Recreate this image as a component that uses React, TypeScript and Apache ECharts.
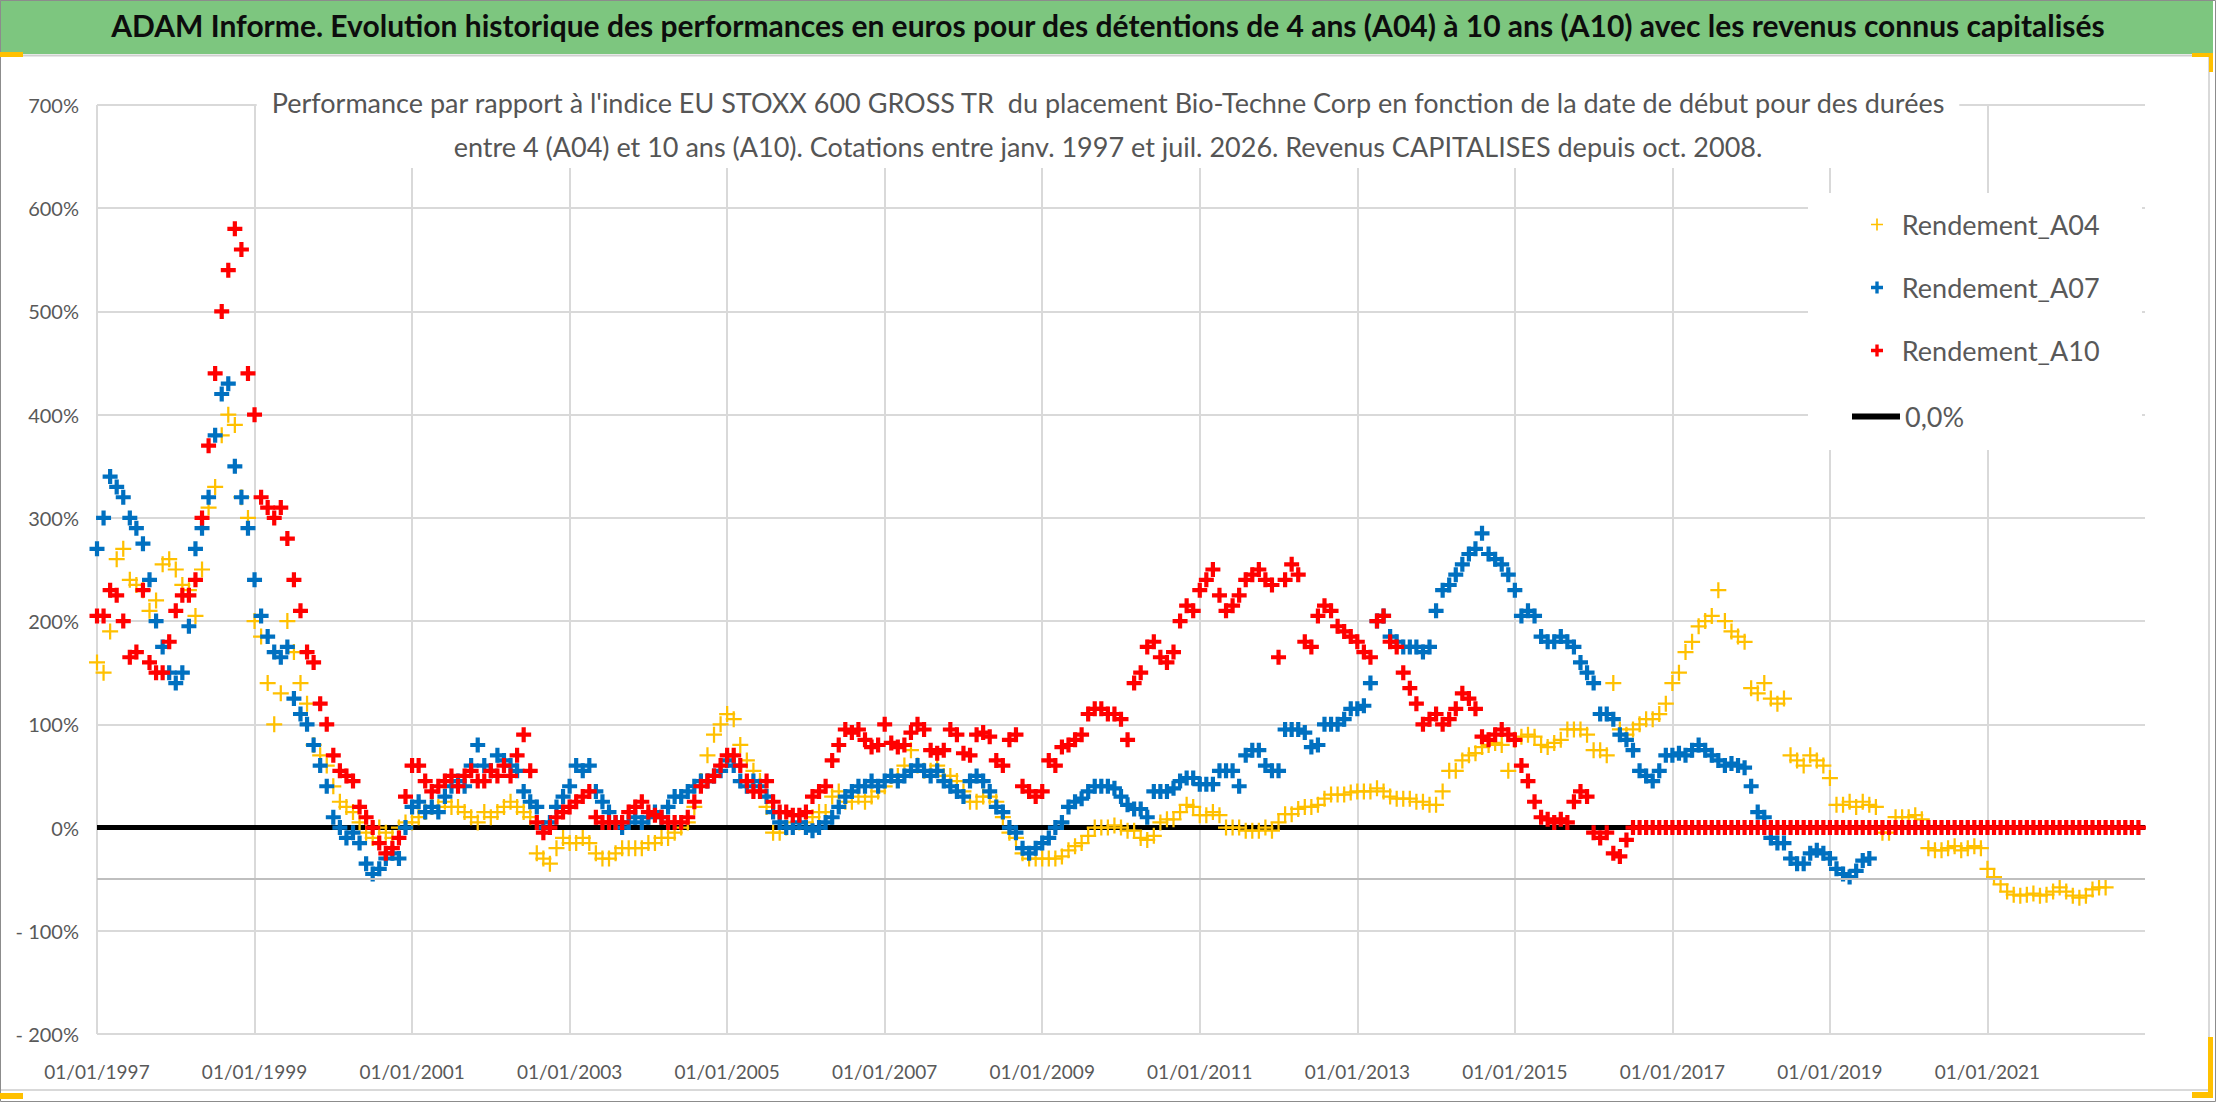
import React, { useEffect, useRef } from 'react';
import * as echarts from 'echarts';

// Monthly readings (start of month), from 01/1997
const START_YEAR = 1997;
const X_MIN = 1997;
const X_MAX = 2023;
const X_STEP = 2;
const Y_MIN = -200;
const Y_MAX = 700;
const Y_STEP = 100;

const seriesNames = ['Rendement_A04', 'Rendement_A07', 'Rendement_A10', '0,0%'];

// Rendement_A04 : 01/1997 -> 07/2022
const rendementA04 = [
  160, 150, 190, 260, 270, 240, 235, 230, 210, 220, 255, 260, // 1997
  250, 235, 230, 205, 250, 310, 330, 380, 400, 390, 320, 300, // 1998
  200, 185, 140, 100, 130, 200, 170, 140, 120, 80, 70, 60, // 1999
  40, 25, 20, 15, 5, -5, -10, 0, -5, -10, 0, 5, // 2000
  5, 10, 15, 20, 20, 25, 20, 20, 15, 10, 5, 15, // 2001
  10, 15, 20, 25, 20, 15, 10, -25, -30, -35, -20, -10, // 2002
  -15, -15, -10, -15, -25, -30, -30, -25, -20, -20, -20, -20, // 2003
  -15, -15, -10, -10, -5, 0, 5, 20, 45, 70, 90, 100, // 2004
  110, 105, 80, 65, 55, 45, 20, -5, -5, 0, 5, 5, // 2005
  5, 10, 15, 15, 30, 35, 25, 25, 30, 25, 30, 35, // 2006
  40, 50, 50, 60, 75, 60, 55, 55, 60, 50, 50, 45, // 2007
  35, 25, 25, 30, 30, 25, 10, -5, -10, -25, -30, -30, // 2008
  -30, -30, -30, -28, -22, -18, -15, -8, 0, 0, 0, 2, // 2009
  0, -3, -3, -10, -12, -8, 5, 8, 8, 15, 22, 20, // 2010
  12, 12, 15, 12, 0, 0, 0, -3, -3, -3, 0, -3, // 2011
  5, 13, 13, 18, 20, 20, 22, 28, 32, 32, 32, 34, // 2012
  35, 35, 35, 38, 35, 30, 28, 28, 28, 25, 25, 22, // 2013
  22, 35, 55, 55, 65, 70, 72, 78, 80, 82, 80, 55, // 2014
  85, 88, 90, 88, 80, 78, 82, 85, 95, 95, 95, 90, // 2015
  75, 75, 70, 140, 95, 90, 95, 100, 105, 105, 110, 120, // 2016
  140, 150, 170, 180, 195, 200, 205, 230, 200, 190, 185, 180, // 2017
  135, 130, 140, 125, 120, 125, 70, 65, 60, 70, 65, 60, // 2018
  48, 22, 22, 25, 20, 25, 22, 20, -5, -5, 10, 10, // 2019
  10, 12, 8, -20, -22, -22, -20, -18, -22, -20, -18, -20, // 2020
  -40, -48, -55, -62, -65, -66, -65, -64, -66, -65, -62, -58, // 2021
  -62, -66, -68, -66, -60, -58, -58 // 2022
];

// Rendement_A07 : 01/1997 -> 07/2019
const rendementA07 = [
  270, 300, 340, 330, 320, 300, 290, 275, 240, 200, 175, 150, // 1997
  140, 150, 195, 270, 290, 320, 380, 420, 430, 350, 320, 290, // 1998
  240, 205, 185, 170, 165, 175, 125, 110, 100, 80, 60, 40, // 1999
  10, 0, -10, -5, -15, -35, -45, -40, -30, -25, -30, 0, // 2000
  20, 25, 15, 20, 15, 30, 40, 45, 40, 60, 80, 60, // 2001
  55, 70, 65, 60, 55, 35, 25, 20, 0, 5, 20, 30, // 2002
  40, 60, 55, 60, 35, 25, 15, 5, 0, 5, 10, 5, // 2003
  10, 15, 10, 20, 30, 30, 35, 40, 45, 45, 50, 55, // 2004
  65, 60, 45, 40, 45, 40, 30, 15, 5, 0, 0, 5, // 2005
  0, -3, 0, 5, 10, 20, 30, 35, 40, 40, 45, 40, // 2006
  45, 50, 45, 50, 55, 60, 55, 50, 55, 45, 40, 35, // 2007
  30, 45, 50, 45, 35, 20, 15, 0, -5, -20, -25, -20, // 2008
  -15, -10, 0, 5, 20, 25, 28, 35, 40, 40, 40, 38, // 2009
  30, 22, 18, 18, 10, 35, 35, 35, 38, 45, 48, 48, // 2010
  42, 42, 42, 55, 55, 55, 40, 70, 75, 75, 60, 55, // 2011
  55, 95, 95, 95, 92, 78, 80, 100, 100, 100, 105, 115, // 2012
  115, 118, 140, 200, 205, 185, 180, 175, 175, 175, 170, 175, // 2013
  210, 230, 235, 245, 255, 265, 270, 285, 265, 260, 255, 245, // 2014
  230, 205, 210, 205, 185, 180, 180, 185, 180, 175, 160, 150, // 2015
  140, 110, 110, 105, 90, 85, 75, 55, 50, 45, 55, 70, // 2016
  70, 72, 70, 75, 80, 75, 70, 65, 60, 62, 60, 58, // 2017
  40, 15, 10, -10, -15, -15, -30, -35, -35, -25, -22, -25, // 2018
  -30, -40, -45, -48, -42, -32, -30 // 2019
];

// Rendement_A10 : 01/1997 -> 12/2022 (0 once no data is known)
const rendementA10 = [
  205, 205, 230, 225, 200, 165, 170, 230, 160, 150, 150, 180, // 1997
  210, 225, 225, 240, 300, 370, 440, 500, 540, 580, 560, 440, // 1998
  400, 320, 310, 300, 310, 280, 240, 210, 170, 160, 120, 100, // 1999
  70, 55, 50, 45, 20, 10, 0, -15, -25, -20, -10, 30, // 2000
  60, 60, 45, 35, 40, 45, 50, 40, 50, 55, 45, 45, // 2001
  55, 50, 60, 50, 70, 90, 55, 5, -5, 0, 10, 15, // 2002
  20, 25, 30, 35, 10, 5, 5, 5, 5, 15, 20, 25, // 2003
  15, 12, 10, 5, 5, 5, 10, 25, 40, 45, 50, 60, // 2004
  70, 70, 60, 45, 35, 35, 45, 25, 15, 15, 12, 12, // 2005
  15, 30, 35, 40, 65, 80, 95, 92, 95, 85, 78, 80, // 2006
  100, 82, 78, 80, 92, 100, 95, 75, 72, 75, 95, 90, // 2007
  72, 70, 90, 92, 88, 65, 60, 85, 90, 40, 35, 30, // 2008
  35, 65, 60, 78, 80, 85, 90, 110, 115, 115, 110, 110, // 2009
  105, 85, 140, 150, 175, 180, 165, 160, 170, 200, 215, 210, // 2010
  230, 240, 250, 225, 210, 215, 225, 240, 245, 250, 240, 235, // 2011
  165, 240, 255, 245, 180, 175, 205, 215, 210, 195, 190, 185, // 2012
  180, 170, 165, 200, 205, 180, 175, 150, 135, 120, 100, 105, // 2013
  110, 100, 105, 115, 130, 125, 115, 88, 85, 90, 95, 90, // 2014
  85, 60, 45, 25, 10, 8, 5, 8, 5, 25, 35, 30, // 2015
  -5, -10, -5, -25, -28, -12, 0, 0, 0, 0, 0, 0, // 2016
  0, 0, 0, 0, 0, 0, 0, 0, 0, 0, 0, 0, // 2017
  0, 0, 0, 0, 0, 0, 0, 0, 0, 0, 0, 0, // 2018
  0, 0, 0, 0, 0, 0, 0, 0, 0, 0, 0, 0, // 2019
  0, 0, 0, 0, 0, 0, 0, 0, 0, 0, 0, 0, // 2020
  0, 0, 0, 0, 0, 0, 0, 0, 0, 0, 0, 0, // 2021
  0, 0, 0, 0, 0, 0, 0, 0, 0, 0, 0, 0 // 2022
];

// 0,0% reference line
const zeroLine = [
  [1997, 0],
  [2023, 0]
];

const titleText =
  'ADAM Informe. Evolution historique des performances en euros pour des détentions de 4 ans (A04) à 10 ans (A10) avec les revenus connus capitalisés';
const subtitleText =
  "Performance par rapport à l'indice EU STOXX 600 GROSS TR  du placement Bio-Techne Corp en fonction de la date de début pour des durées\nentre 4 (A04) et 10 ans (A10). Cotations entre janv. 1997 et juil. 2026. Revenus CAPITALISES depuis oct. 2008.";

const FONT = 'Lato, "Noto Sans", sans-serif';
const GREY_TEXT = '#595959';
const GRID_COLOR = '#d9d9d9';

const PLUS_BOLD = 'path://M3.6,0H6.4V3.6H10V6.4H6.4V10H3.6V6.4H0V3.6H3.6Z';
const PLUS_THIN = 'path://M4.3,0H5.7V4.3H10V5.7H5.7V10H4.3V5.7H0V4.3H4.3Z';

const toPoints = (vals: number[]) => vals.map((v, i) => [START_YEAR + i / 12, v]);

export default function App() {
  const chartRef = useRef<HTMLDivElement>(null);

  useEffect(() => {
    if (!chartRef.current) return;
    const chart = echarts.init(chartRef.current, null, { renderer: 'svg' });

    const option: echarts.EChartsOption = {
      animation: false,
      backgroundColor: '#fff',
      textStyle: { fontFamily: FONT },
      title: [
        {
          text: titleText,
          left: 'center',
          top: 10,
          padding: 0,
          textStyle: { fontFamily: FONT, fontSize: 30, fontWeight: 'bold', color: '#0d0d0d' }
        },
        {
          text: subtitleText,
          left: 'center',
          top: 80,
          padding: [0, 14, 0, 14],
          backgroundColor: '#fff',
          textStyle: {
            fontFamily: FONT,
            fontSize: 27,
            fontWeight: 'normal',
            color: '#555555',
            lineHeight: 44,
            align: 'center'
          }
        }
      ],
      graphic: [
        {
          type: 'rect',
          z: -10,
          shape: { x: 0, y: 0, width: 2213, height: 54 },
          style: { fill: '#7dc67f' }
        },
        {
          type: 'line',
          z: -10,
          shape: { x1: 0, y1: 55.5, x2: 2213, y2: 55.5 },
          style: { stroke: '#cfcfcf', lineWidth: 2 }
        },
        {
          type: 'polyline',
          z: -10,
          shape: { points: [[2209, 56], [2209, 1090], [0, 1090]] },
          style: { stroke: GRID_COLOR, lineWidth: 2, fill: 'none' }
        },
        {
          type: 'rect',
          z: -10,
          shape: { x: 0.5, y: 0.5, width: 2215, height: 1101 },
          style: { fill: 'none', stroke: '#8c8c8c', lineWidth: 1 }
        },
        { type: 'rect', z: -9, shape: { x: 0, y: 52, width: 23, height: 5 }, style: { fill: '#ffc000' } },
        { type: 'rect', z: -9, shape: { x: 0, y: 1093, width: 23, height: 6 }, style: { fill: '#ffc000' } },
        { type: 'rect', z: -9, shape: { x: 2192, y: 53, width: 21, height: 4 }, style: { fill: '#ffc000' } },
        { type: 'rect', z: -9, shape: { x: 2209, y: 53, width: 4, height: 19 }, style: { fill: '#ffc000' } },
        { type: 'rect', z: -9, shape: { x: 2208, y: 1037, width: 5, height: 61 }, style: { fill: '#ffc000' } },
        { type: 'rect', z: -9, shape: { x: 2192, y: 1092, width: 21, height: 6 }, style: { fill: '#ffc000' } },
        {
          type: 'rect',
          z: 1,
          shape: { x: 1808, y: 193, width: 334, height: 257 },
          style: { fill: '#fff' }
        }
      ],
      legend: [
        {
          data: seriesNames.slice(0, 3),
          orient: 'vertical',
          left: 1866,
          top: 206,
          itemWidth: 12,
          itemHeight: 12,
          itemGap: 36,
          formatter: (name: string) => '  ' + name,
          textStyle: { fontFamily: FONT, fontSize: 27, color: GREY_TEXT },
          z: 5
        },
        {
          data: [{ name: seriesNames[3], icon: 'rect' }],
          orient: 'vertical',
          left: 1847,
          top: 398,
          itemWidth: 48,
          itemHeight: 6,
          textStyle: { fontFamily: FONT, fontSize: 27, color: GREY_TEXT },
          z: 5
        }
      ],
      grid: {
        left: 97,
        right: 71,
        top: 105,
        bottom: 68
      },
      xAxis: {
        type: 'value',
        min: X_MIN,
        max: X_MAX,
        interval: X_STEP,
        axisLine: { show: false },
        axisTick: { show: false },
        axisLabel: {
          showMaxLabel: false,
          margin: 28,
          fontSize: 19,
          fontFamily: FONT,
          color: GREY_TEXT,
          formatter: (v: number) => `01/01/${v}`
        },
        splitLine: {
          show: true,
          showMaxLine: false,
          lineStyle: { color: GRID_COLOR, width: 2 }
        }
      },
      yAxis: {
        type: 'value',
        min: Y_MIN,
        max: Y_MAX,
        interval: Y_STEP,
        axisLine: { show: false },
        axisTick: { show: false },
        axisLabel: {
          margin: 18,
          fontSize: 20,
          fontFamily: FONT,
          color: GREY_TEXT,
          formatter: (v: number) => (v < 0 ? `- ${-v}%` : `${v}%`)
        },
        splitLine: { lineStyle: { color: GRID_COLOR, width: 2 } }
      },
      series: [
        {
          name: seriesNames[3],
          type: 'line',
          data: zeroLine,
          symbol: 'none',
          z: 1,
          lineStyle: { color: '#000', width: 5 },
          itemStyle: { color: '#000' },
          markLine: {
            silent: true,
            symbol: 'none',
            label: { show: false },
            lineStyle: { color: '#bfbfbf', width: 2, type: 'solid' },
            data: [{ yAxis: -50 }]
          }
        },
        {
          name: seriesNames[0],
          type: 'scatter',
          data: toPoints(rendementA04),
          symbol: PLUS_THIN,
          symbolSize: 16,
          z: 2,
          itemStyle: { color: '#ffc000', opacity: 1 }
        },
        {
          name: seriesNames[1],
          type: 'scatter',
          data: toPoints(rendementA07),
          symbol: PLUS_BOLD,
          symbolSize: 15,
          z: 3,
          itemStyle: { color: '#0070c0', opacity: 1 }
        },
        {
          name: seriesNames[2],
          type: 'scatter',
          data: toPoints(rendementA10),
          symbol: PLUS_BOLD,
          symbolSize: 15,
          z: 4,
          itemStyle: { color: '#ff0000', opacity: 1 }
        }
      ]
    };

    chart.setOption(option);

    const handleResize = () => chart.resize();
    window.addEventListener('resize', handleResize);
    return () => {
      window.removeEventListener('resize', handleResize);
      chart.dispose();
    };
  }, []);

  return (
    <div
      ref={chartRef}
      style={{ position: 'fixed', left: 0, top: 0, width: 2216, height: 1102 }}
    />
  );
}
